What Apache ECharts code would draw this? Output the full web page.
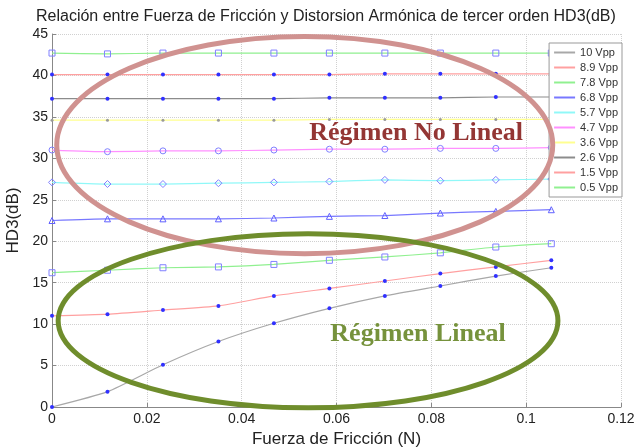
<!DOCTYPE html>
<html>
<head>
<meta charset="utf-8">
<script src="https://cdn.jsdelivr.net/npm/echarts@6.0.0/dist/echarts.min.js"></script>
<style>
  html, body { margin: 0; padding: 0; background: #fff; }
  #chart { width: 635px; height: 448px; }
</style>
</head>
<body>
<div id="chart"></div>
<script>
// eje x: fuerza de friccion (N)
var fuerza = [0, 0.0117, 0.0234, 0.0351, 0.0468, 0.0585, 0.0702, 0.0819, 0.0936, 0.1053];

// HD3 (dB) por amplitud
var hd3_10  = [0, 1.85, 5.1, 7.9, 10.1, 11.9, 13.4, 14.6, 15.8, 16.8];
var hd3_8_9 = [11.0, 11.2, 11.7, 12.2, 13.4, 14.3, 15.2, 16.1, 16.9, 17.7];
var hd3_7_8 = [16.2, 16.5, 16.8, 16.9, 17.2, 17.7, 18.1, 18.6, 19.3, 19.7];
var hd3_6_8 = [22.5, 22.7, 22.7, 22.7, 22.8, 23.0, 23.1, 23.4, 23.6, 23.8];
var hd3_5_7 = [27.1, 26.9, 26.9, 27.0, 27.1, 27.2, 27.4, 27.3, 27.4, 27.5];
var hd3_4_7 = [31.0, 30.8, 30.9, 30.9, 31.0, 31.1, 31.1, 31.2, 31.2, 31.3];
var hd3_3_6 = [34.6, 34.6, 34.6, 34.6, 34.6, 34.7, 34.7, 34.7, 34.7, 34.7];
var hd3_2_6 = [37.2, 37.2, 37.2, 37.2, 37.2, 37.3, 37.3, 37.3, 37.4, 37.4];
var hd3_1_5 = [40.1, 40.1, 40.1, 40.1, 40.1, 40.1, 40.2, 40.2, 40.2, 40.2];
var hd3_0_5 = [42.7, 42.6, 42.7, 42.7, 42.7, 42.7, 42.7, 42.7, 42.7, 42.7];

var nombres = ['10 Vpp', '8.9 Vpp', '7.8 Vpp', '6.8 Vpp', '5.7 Vpp', '4.7 Vpp', '3.6 Vpp', '2.6 Vpp', '1.5 Vpp', '0.5 Vpp'];
var valores = [hd3_10, hd3_8_9, hd3_7_8, hd3_6_8, hd3_5_7, hd3_4_7, hd3_3_6, hd3_2_6, hd3_1_5, hd3_0_5];

var colores = ['#a8a8a8', '#ffa0a0', '#90f090', '#7878ff', '#90f8f8', '#ff90ff', '#ffff90', '#8c8c8c', '#ffa0a0', '#90f090'];
// marcadores estilo matlab
var marcas = [
  { symbol: 'circle', size: 4, color: '#3030ff', hollow: false },
  { symbol: 'circle', size: 4, color: '#3030ff', hollow: false },
  { symbol: 'rect', size: 6, color: '#8080ff', hollow: true },
  { symbol: 'triangle', size: 6, color: '#6060ff', hollow: true },
  { symbol: 'diamond', size: 7, color: '#8080ff', hollow: true },
  { symbol: 'circle', size: 6, color: '#8080ff', hollow: true },
  { symbol: 'circle', size: 3, color: '#999999', hollow: false },
  { symbol: 'circle', size: 4, color: '#3030ff', hollow: false },
  { symbol: 'circle', size: 4, color: '#3030ff', hollow: false },
  { symbol: 'rect', size: 6, color: '#8080ff', hollow: true }
];

var fuente = '"Liberation Sans", Arial, Helvetica, sans-serif';

function buildSeries() {
  var series = [];
  for (var i = 0; i < nombres.length; i++) {
    var pts = [];
    for (var j = 0; j < fuerza.length; j++) {
      pts.push([fuerza[j], valores[i][j]]);
    }
    var m = marcas[i];
    series.push({
      name: nombres[i],
      type: 'line',
      data: pts,
      smooth: 0.2,
      symbol: m.symbol,
      symbolSize: m.size,
      showAllSymbol: true,
      lineStyle: { color: colores[i], width: 1.2 },
      itemStyle: m.hollow
        ? { color: 'rgba(255,255,255,0)', borderColor: m.color, borderWidth: 1 }
        : { color: m.color, borderWidth: 0 },
      emphasis: { disabled: true },
      z: 2
    });
  }
  return series;
}

var chart = echarts.init(document.getElementById('chart'), null, { renderer: 'canvas' });

var option = {
  animation: false,
  backgroundColor: '#fff',
  title: {
    text: 'Relación entre Fuerza de Fricción y Distorsion Armónica de tercer orden HD3(dB)',
    left: 31,
    top: 4,
    textStyle: { fontFamily: fuente, fontSize: 16, fontWeight: 'normal', color: '#222' }
  },
  legend: {
    orient: 'vertical',
    right: 13,
    top: 43,
    data: nombres,
    itemWidth: 21,
    itemHeight: 10,
    itemGap: 4,
    padding: [4, 4, 4, 4],
    borderColor: '#999',
    borderWidth: 1,
    backgroundColor: '#fff',
    itemStyle: { opacity: 0 },
    textStyle: { fontFamily: fuente, fontSize: 11, color: '#333' },
    selectedMode: false,
    z: 5
  },
  grid: {
    left: 52,
    right: 14,
    top: 34,
    bottom: 41,
    containLabel: false,
    outerBoundsMode: 'none'
  },
  xAxis: {
    type: 'value',
    min: 0,
    max: 0.12,
    interval: 0.02,
    name: 'Fuerza de Fricción (N)',
    nameLocation: 'middle',
    nameGap: 21,
    nameTextStyle: { fontFamily: fuente, fontSize: 17, color: '#222' },
    axisLine: { lineStyle: { color: '#888', width: 1 } },
    axisTick: { inside: true, length: 4, lineStyle: { color: '#888' } },
    axisLabel: { fontFamily: fuente, fontSize: 14, color: '#222', margin: 5 },
    splitLine: { show: true, lineStyle: { color: '#d0d0d0', type: 'dotted', width: 1 } }
  },
  yAxis: {
    type: 'value',
    min: 0,
    max: 45,
    interval: 5,
    name: 'HD3(dB)',
    nameLocation: 'middle',
    nameGap: 19,
    nameRotate: 90,
    nameTextStyle: { fontFamily: fuente, fontSize: 17, color: '#222' },
    axisLine: { show: true, lineStyle: { color: '#888', width: 1 } },
    axisTick: { show: true, inside: true, length: 4, lineStyle: { color: '#888' } },
    axisLabel: { fontFamily: fuente, fontSize: 14, color: '#222', margin: 4 },
    splitLine: { show: true, lineStyle: { color: '#d0d0d0', type: 'dotted', width: 1 } }
  },
  series: buildSeries()
};

chart.setOption(option);

// anotaciones: elipses y textos en coordenadas de datos
function anotar() {
  var px = function (x, y) { return chart.convertToPixel({ gridIndex: 0 }, [x, y]); };
  var escX = px(0.1, 0)[0] - px(0, 0)[0];   // px por 0.1 N
  var escY = px(0, 0)[1] - px(0, 10)[1];    // px por 10 dB

  var elipse = function (cx, cy, rx, ry, color) {
    var c = px(cx, cy);
    return {
      type: 'ellipse',
      shape: { cx: c[0], cy: c[1], rx: rx / 0.1 * escX, ry: ry / 10 * escY },
      style: { fill: 'none', stroke: color, lineWidth: 5 },
      z: 100
    };
  };
  var texto = function (x, y, txt, color) {
    var c = px(x, y);
    return {
      type: 'text',
      x: c[0],
      y: c[1],
      style: {
        text: txt,
        fill: color,
        font: 'bold 26px "Liberation Serif", "Times New Roman", serif',
        align: 'center',
        verticalAlign: 'middle'
      },
      z: 101
    };
  };

  chart.setOption({
    graphic: [
      elipse(0.0533, 31.6, 0.0523, 13.1, '#d09290'),
      elipse(0.0540, 10.4, 0.0527, 10.5, '#6f8d2c'),
      texto(0.0768, 33.0, 'Régimen No Lineal', '#943634'),
      texto(0.0772, 8.8, 'Régimen Lineal', '#76923c')
    ]
  });
}
anotar();
</script>
</body>
</html>
